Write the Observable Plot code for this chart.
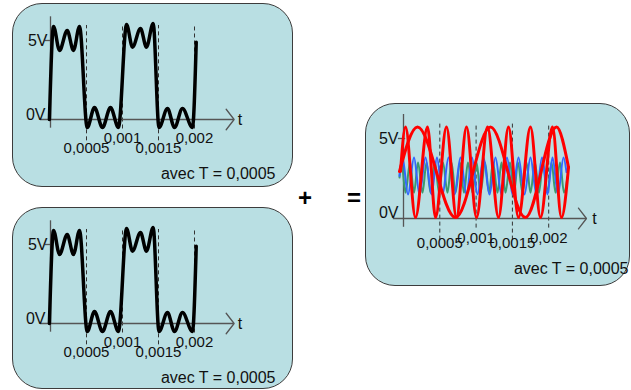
<!DOCTYPE html>
<html><head><meta charset="utf-8">
<script src="https://cdn.jsdelivr.net/npm/d3@7"></script>
<script src="https://cdn.jsdelivr.net/npm/@observablehq/plot@0.6"></script>
<style>
body{margin:0;background:#fff;}
#root{position:relative;width:631px;height:390px;overflow:hidden;font-family:"Liberation Sans",Arial,sans-serif;}
.panel{position:absolute;background:#b9dfe3;border:1px solid #3c3c3c;border-radius:30px;box-sizing:border-box;}
.plot{position:absolute;}
.op{position:absolute;font-size:24px;font-weight:bold;transform:translate(-50%,-50%);line-height:1;color:#000;}
</style></head><body><div id="root"></div>
<script>
// time in ms, voltage in V
const tickValues = [0.5, 1, 1.5, 2];
const tickLabels = ["0,0005", "0,001", "0,0015", "0,002"];
const tickLowRow = [true, false, true, false];
const levelValues = [5, 0];
const levelLabels = ["5V", "0V"];
const periodLabel = "avec T = 0,0005";
const axisLabel = "t";
const operators = ["+", "="];

// input signal (square wave with ripple), extrema
const squareT = [-0.015, 0.042, 0.125, 0.232, 0.319, 0.403, 0.510, 0.611, 0.722, 0.833, 0.944, 1.056, 1.139, 1.25, 1.333, 1.426, 1.507, 1.625, 1.722, 1.833, 1.972, 2.024];
const squareV = [0, 5.89, 4.37, 5.63, 4.37, 5.89, -0.51, 0.76, -0.51, 0.76, -0.51, 6.01, 4.58, 5.76, 4.58, 6.08, -0.51, 0.70, -0.51, 0.70, -0.51, 4.89];

// result panel components
const redSlowT = [-0.055, 0.193, 0.716, 1.198, 1.680, 2.107, 2.273];
const redSlowV = [2.94, 5.72, 0.06, 5.72, 0.06, 5.72, 3.2];
const redFastT = [-0.041, 0.028, 0.165, 0.331, 0.441, 0.592, 0.730, 0.868, 1.006, 1.157, 1.309, 1.446, 1.584, 1.749, 1.887, 2.052, 2.176, 2.273];
const redFastV = [2.94, 5.72, 0.06, 5.72, 0.06, 5.72, 0.06, 5.72, 0.06, 5.72, 0.06, 5.72, 0.06, 5.72, 0.06, 5.72, 0.06, 3.2];
const blueT = [-0.055, -0.014, 0.062, 0.145, 0.220, 0.303, 0.386, 0.461, 0.537, 0.620, 0.702, 0.785, 0.868, 0.944, 1.019, 1.102, 1.185, 1.267, 1.350, 1.426, 1.501, 1.584, 1.667, 1.749, 1.832, 1.908, 1.983, 2.052, 2.128, 2.204, 2.245];
const blueV = [2.66, 3.81, 1.5, 3.81, 1.5, 3.81, 1.5, 3.81, 1.5, 3.81, 1.5, 3.81, 1.5, 3.81, 1.5, 3.81, 1.5, 3.81, 1.5, 3.81, 1.5, 3.81, 1.5, 3.81, 1.5, 3.81, 1.5, 3.81, 1.5, 3.81, 2.9];
const greenT = [-0.055, -0.028, 0.028, 0.090, 0.145, 0.200, 0.262, 0.317, 0.372, 0.434, 0.489, 0.544, 0.606, 0.661, 0.716, 0.778, 0.833, 0.888, 0.950, 1.006, 1.061, 1.123, 1.178, 1.233, 1.295, 1.350, 1.405, 1.467, 1.522, 1.577, 1.639, 1.694, 1.749, 1.811, 1.866, 1.921, 1.983, 2.039, 2.094, 2.156, 2.211, 2.259];
const greenV = [2.56, 3.5, 1.62, 3.5, 1.62, 3.5, 1.62, 3.5, 1.62, 3.5, 1.62, 3.5, 1.62, 3.5, 1.62, 3.5, 1.62, 3.5, 1.62, 3.5, 1.62, 3.5, 1.62, 3.5, 1.62, 3.5, 1.62, 3.5, 1.62, 3.5, 1.62, 3.5, 1.62, 3.5, 1.62, 3.5, 1.62, 3.5, 1.62, 3.5, 1.62, 2.6];

const toPts = (T, V) => T.map((t, i) => ({t, v: V[i]}));
const ticks = tickValues.map((t, i) => ({t, label: tickLabels[i], low: tickLowRow[i]}));
const levels = levelValues.map((v, i) => ({v, label: levelLabels[i]}));

const root = document.getElementById("root");
const FONT = "Liberation Sans, Arial, sans-serif";
const AX = "#555";

function drawPanel(c) {
  const bg = document.createElement("div");
  bg.className = "panel";
  Object.assign(bg.style, {left: c.left + "px", top: c.top + "px", width: c.width + "px", height: c.height + "px"});
  root.appendChild(bg);

  const marks = [
    Plot.ruleX(ticks, {x: "t", y1: d => d.low ? -1.35 : -0.6, y2: 5.95, stroke: "#333", strokeWidth: 1, strokeDasharray: "4,3"}),
    Plot.ruleX([0], {y1: -0.55, y2: 6.5, stroke: AX, strokeWidth: 1.3}),
    Plot.ruleY([0], {x1: -0.14, x2: c.arrowTip, stroke: AX, strokeWidth: 1.3}),
    Plot.line([{t: c.arrowTip - 0.11, v: 0.65}, {t: c.arrowTip, v: 0}, {t: c.arrowTip - 0.11, v: -0.65}], {x: "t", y: "v", stroke: AX, strokeWidth: 1.3, curve: "linear"}),
    Plot.ruleY([levels[0]], {y: "v", x1: -0.07, x2: 0.03, stroke: AX, strokeWidth: 1.3}),
    ...c.series.map(s => Plot.line(toPts(s.T, s.V), {x: "t", y: "v", curve: "monotone-x", stroke: s.color, strokeWidth: s.w, strokeLinejoin: "round", strokeLinecap: "round"})),
    Plot.text(ticks.filter(d => d.low), {x: "t", y: 0, text: "label", lineAnchor: "bottom", dy: c.lowDy, fontSize: 15, fill: "#111"}),
    Plot.text(ticks.filter(d => !d.low), {x: "t", y: 0, text: "label", lineAnchor: "bottom", dy: c.highDy, fontSize: 15, fill: "#111"}),
    Plot.text([levels[0]], {x: 0, y: "v", text: "label", textAnchor: "end", lineAnchor: "middle", dx: c.fiveDx, fontSize: 16, fill: "#111"}),
    Plot.text([levels[1]], {x: 0, y: "v", text: "label", textAnchor: "end", lineAnchor: "bottom", dx: -5, dy: c.zeroDy, fontSize: 16, fill: "#111"}),
    Plot.text([axisLabel], {x: 2.6, y: 0, text: d => d, textAnchor: "start", lineAnchor: "middle", fontSize: 16, fill: "#111"}),
    Plot.text([periodLabel], {frameAnchor: "top-right", text: d => d, textAnchor: "end", lineAnchor: "bottom", dx: -(c.width - 263), dy: c.periodY, fontSize: 16, fill: "#111"})
  ];

  const svg = Plot.plot({
    width: c.width, height: c.height, margin: 0,
    x: {domain: [0, 2.5], range: c.xRange, axis: null},
    y: {domain: [0, 5], range: c.yRange, axis: null},
    style: {background: "transparent", overflow: "visible", fontFamily: FONT},
    marks
  });
  svg.classList.add("plot");
  Object.assign(svg.style, {left: c.left + "px", top: c.top + "px", position: "absolute"});
  root.appendChild(svg);
}

const inputSeries = [{T: squareT, V: squareV, color: "#000", w: 3.5}];
const base = {width: 281, xRange: [38, 218], yRange: [116, 37], arrowTip: 2.55, lowDy: 33, highDy: 23, periodY: 175, fiveDx: -3, zeroDy: 0, series: inputSeries};
drawPanel({...base, left: 12, top: 3, height: 184});
drawPanel({...base, left: 12, top: 207, height: 182});
drawPanel({
  left: 365, top: 103, width: 265, height: 183,
  xRange: [38, 219.5], yRange: [115, 35], arrowTip: 2.52,
  lowDy: 29, highDy: 24, periodY: 170, fiveDx: -5, zeroDy: -1,
  series: [
    {T: greenT, V: greenV, color: "#3d9a6e", w: 2},
    {T: blueT, V: blueV, color: "#3366ff", w: 2},
    {T: redSlowT, V: redSlowV, color: "#ff0000", w: 3},
    {T: redFastT, V: redFastV, color: "#ff0000", w: 3}
  ]
});

const opPos = [[305, 198], [354, 198]];
operators.forEach((o, i) => {
  const s = document.createElement("div");
  s.className = "op";
  s.textContent = o;
  s.style.left = opPos[i][0] + "px";
  s.style.top = opPos[i][1] + "px";
  root.appendChild(s);
});
</script></body></html>
